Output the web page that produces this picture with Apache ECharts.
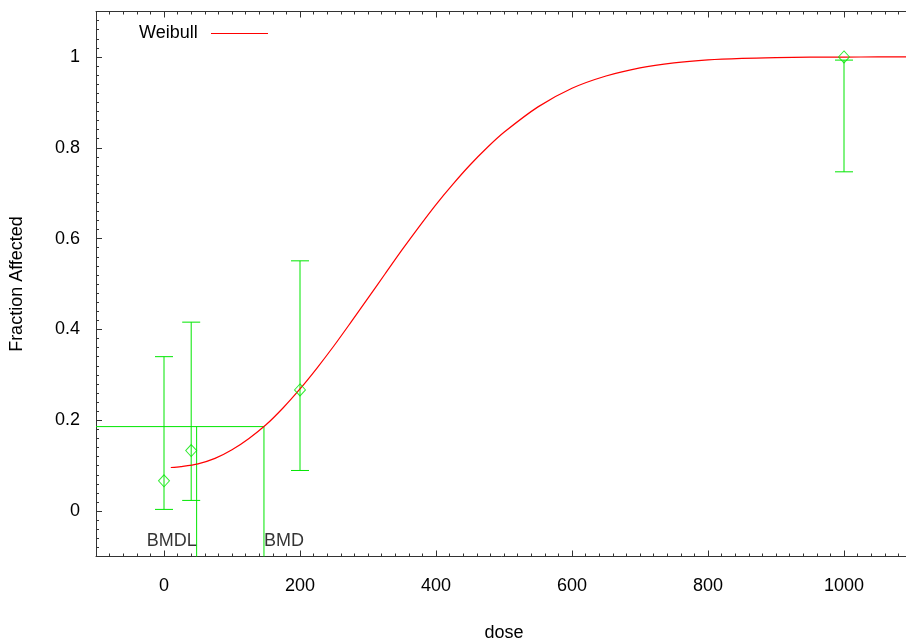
<!DOCTYPE html>
<html>
<head>
<meta charset="utf-8">
<script src="https://cdn.jsdelivr.net/npm/echarts@6/dist/echarts.min.js"></script>
<style>
  html, body { margin: 0; padding: 0; background: #fff; }
  #chart { width: 906px; height: 640px; }
</style>
</head>
<body>
<div id="chart"></div>
<script>
// Observed dose groups with 95% confidence limits
const doses = [0, 40, 200, 1000];
const observed = [0.0667, 0.1333, 0.2667, 1.0];
const ciLower = [0.0037, 0.0235, 0.0894, 0.747];
const ciUpper = [0.340, 0.416, 0.551, 0.993];

// Fitted Weibull curve
const curveDose = [10, 25, 50, 75, 100, 125, 150, 175, 200, 225, 250, 275, 300, 325, 350,
  375, 400, 425, 450, 475, 500, 550, 600, 650, 700, 750, 800, 850, 900, 950, 1000, 1050, 1100];
const curveFrac = [0.096, 0.098, 0.104, 0.116, 0.135, 0.160, 0.190, 0.227, 0.269, 0.315, 0.364,
  0.416, 0.469, 0.522, 0.575, 0.626, 0.675, 0.720, 0.762, 0.800, 0.834, 0.890, 0.931, 0.958,
  0.976, 0.987, 0.9935, 0.9968, 0.9985, 0.9994, 0.9997, 0.9999, 1.0];

// Benchmark dose results
const bmr = 0.186;
const bmd = 147;
const bmdl = 48;

// Axis ticks
const xTickLabels = [0, 200, 400, 600, 800, 1000];
const yTickLabels = [0, 0.2, 0.4, 0.6, 0.8, 1];
const xRange = [-100, 1100];
const yRange = [-0.1, 1.1];

const GREEN = '#00e600';
const AXIS = '#333';
const FONT = 'Liberation Sans, Arial, sans-serif';
const FS = 18;

function steps(lo, hi, step) {
  const out = [];
  for (let v = lo; v <= hi + 1e-9; v += step) out.push(Math.round(v * 1000) / 1000);
  return out;
}
const xMinor = steps(-100, 1100, 20);
const yMinor = steps(-0.1, 1.1, 0.02);

const plain = v => String(v);

function xAxisDef(pos, values, len, withLabels, showLine) {
  return {
    type: 'value', position: pos, min: xRange[0], max: xRange[1],
    splitLine: { show: false },
    axisLine: { show: showLine, onZero: false, lineStyle: { color: AXIS, width: 1 } },
    axisTick: { show: true, inside: true, length: len, customValues: values, lineStyle: { color: AXIS } },
    axisLabel: withLabels ? { show: true, customValues: xTickLabels, formatter: plain, margin: 21, fontSize: FS, color: '#000', fontFamily: FONT } : { show: false },
    name: withLabels ? 'dose' : '',
    nameLocation: 'middle', nameGap: 68,
    nameTextStyle: { fontSize: FS, color: '#000', fontFamily: FONT }
  };
}
function yAxisDef(pos, values, len, withLabels, showLine) {
  return {
    type: 'value', position: pos, min: yRange[0], max: yRange[1],
    splitLine: { show: false },
    axisLine: { show: showLine, onZero: false, lineStyle: { color: AXIS, width: 1 } },
    axisTick: { show: true, inside: true, length: len, customValues: values, lineStyle: { color: AXIS } },
    axisLabel: withLabels ? { show: true, customValues: yTickLabels, formatter: plain, margin: 16, fontSize: FS, color: '#000', fontFamily: FONT } : { show: false },
    name: withLabels ? 'Fraction Affected' : '',
    nameLocation: 'middle', nameGap: 70, nameRotate: 90,
    nameTextStyle: { fontSize: FS, color: '#000', fontFamily: FONT }
  };
}

const chart = echarts.init(document.getElementById('chart'), null, { renderer: 'canvas' });

const errorData = doses.map((d, i) => [d, ciLower[i], ciUpper[i]]);

chart.setOption({
  animation: false,
  backgroundColor: '#fff',
  grid: { left: 96, top: 11.5, width: 816, height: 545, containLabel: false, outerBoundsMode: 'none' },
  xAxis: [
    xAxisDef('bottom', xTickLabels, 6, true, true),
    xAxisDef('bottom', xMinor, 3, false, false),
    xAxisDef('top', xTickLabels, 6, false, true),
    xAxisDef('top', xMinor, 3, false, false)
  ],
  yAxis: [
    yAxisDef('left', yTickLabels, 6, true, true),
    yAxisDef('left', yMinor, 3, false, false),
    yAxisDef('right', yTickLabels, 6, false, true),
    yAxisDef('right', yMinor, 3, false, false)
  ],
  graphic: [
    { type: 'text', left: 139, top: 24, style: { text: 'Weibull', fill: '#000', font: FS + 'px ' + FONT } },
    { type: 'line', shape: { x1: 211, y1: 33.5, x2: 268, y2: 33.5 }, style: { stroke: '#ff0000', lineWidth: 1 } }
  ],
  series: [
    {
      name: 'Weibull', type: 'line', smooth: 0.3, showSymbol: false,
      data: curveDose.map((d, i) => [d, curveFrac[i]]),
      lineStyle: { color: '#ff0000', width: 1.2 }, z: 3
    },
    {
      type: 'custom', z: 2,
      data: errorData,
      renderItem: function (params, api) {
        const x = api.value(0);
        const lo = api.coord([x, api.value(1)]);
        const hi = api.coord([x, api.value(2)]);
        const w = 9;
        const st = { stroke: GREEN, lineWidth: 1 };
        return {
          type: 'group', children: [
            { type: 'line', shape: { x1: lo[0], y1: lo[1], x2: hi[0], y2: hi[1] }, style: st },
            { type: 'line', shape: { x1: lo[0] - w, y1: lo[1], x2: lo[0] + w, y2: lo[1] }, style: st },
            { type: 'line', shape: { x1: hi[0] - w, y1: hi[1], x2: hi[0] + w, y2: hi[1] }, style: st }
          ]
        };
      }
    },
    {
      type: 'scatter', symbol: 'diamond', symbolSize: [11, 12], z: 4,
      data: doses.map((d, i) => [d, observed[i]]),
      itemStyle: { color: 'rgba(0,0,0,0)', borderColor: GREEN, borderWidth: 1 }
    },
    {
      type: 'line', showSymbol: false, z: 2,
      data: [[xRange[0], bmr], [bmd, bmr]],
      lineStyle: { color: GREEN, width: 1 }
    },
    {
      type: 'line', showSymbol: false, z: 2,
      data: [[bmdl, bmr], [bmdl, yRange[0]]],
      lineStyle: { color: GREEN, width: 1 }
    },
    {
      type: 'line', showSymbol: false, z: 2,
      data: [[bmd, bmr], [bmd, yRange[0]]],
      lineStyle: { color: GREEN, width: 1 }
    },
    {
      type: 'scatter', symbolSize: 0, z: 5,
      data: [
        { value: [bmdl, -0.066], label: { position: 'left', formatter: 'BMDL' } },
        { value: [bmd, -0.066], label: { position: 'right', formatter: 'BMD' } }
      ],
      label: { show: true, distance: 0, fontSize: FS, color: '#000', fontFamily: FONT }
    }
  ]
});
</script>
</body>
</html>
